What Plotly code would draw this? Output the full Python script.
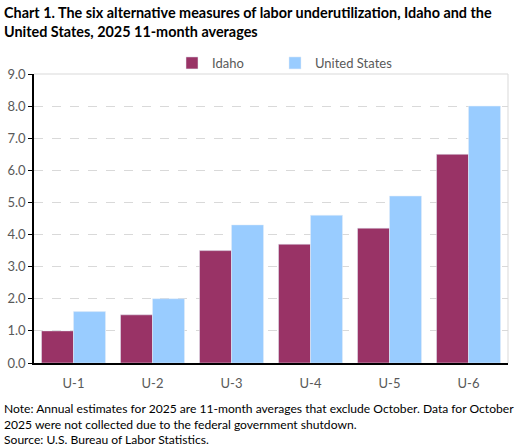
import plotly.graph_objects as go

categories = ["U-1", "U-2", "U-3", "U-4", "U-5", "U-6"]
idaho = [1.0, 1.5, 3.5, 3.7, 4.2, 6.5]
united_states = [1.6, 2.0, 4.3, 4.6, 5.2, 8.0]

FONT = "Lato, 'Open Sans', sans-serif"
TICK_GRAY = "#595959"

# plot area in pixels: left 34, right 508, top 74, bottom 363
PLOT_TOP, PLOT_BOTTOM = 74, 363
PLOT_H = PLOT_BOTTOM - PLOT_TOP


def py(y_px):
    # pixel row -> paper y
    return (PLOT_BOTTOM - y_px) / PLOT_H


def px_(x_px):
    return (x_px - 34) / (508 - 34)


fig = go.Figure()
fig.add_trace(go.Bar(x=categories, y=idaho, name="Idaho", marker_color="#993366",
                     legend="legend"))
fig.add_trace(go.Bar(x=categories, y=united_states, name="United States", marker_color="#99CCFF",
                     legend="legend2"))

legend_style = dict(
    orientation="h",
    xanchor="left",
    y=py(48),
    yanchor="top",
    font=dict(size=13, color=TICK_GRAY),
    itemwidth=30,
    bgcolor="rgba(0,0,0,0)",
)

fig.update_layout(
    width=527,
    height=448,
    margin=dict(l=34, r=19, t=74, b=85, autoexpand=False),
    paper_bgcolor="white",
    plot_bgcolor="white",
    font=dict(family=FONT, size=12, color=TICK_GRAY),
    barmode="group",
    bargap=0.19,
    bargroupgap=0,
    showlegend=True,
    legend=dict(legend_style, x=px_(172)),
    legend2=dict(legend_style, x=px_(275)),
    xaxis=dict(
        showline=True,
        linecolor="black",
        linewidth=1.5,
        ticks="",
        ticklabelstandoff=8,
        automargin=False,
        tickfont=dict(size=13, color=TICK_GRAY),
    ),
    yaxis=dict(
        range=[0, 9],
        dtick=1,
        tickformat=".1f",
        showline=True,
        linecolor="black",
        linewidth=1.5,
        ticks="outside",
        ticklen=4,
        tickcolor="black",
        showgrid=True,
        gridcolor="#D9D9D9",
        griddash="dash",
        zeroline=False,
        automargin=False,
        tickfont=dict(size=13, color=TICK_GRAY),
    ),
)

# right border and solid top line of plot area
fig.add_shape(type="line", xref="paper", yref="paper", x0=1, x1=1, y0=0, y1=1,
              line=dict(color="#D9D9D9", width=1))
fig.add_shape(type="line", xref="paper", yref="paper", x0=0, x1=1, y0=1, y1=1,
              line=dict(color="#D9D9D9", width=1))

fig.add_annotation(
    text="<b>Chart 1. The six alternative measures of labor underutilization, Idaho and the<br>United States, 2025 11-month averages</b>",
    xref="paper", yref="paper", x=px_(2), y=py(2), xanchor="left", yanchor="top",
    align="left", showarrow=False, font=dict(size=14.4, color="black", family=FONT),
)
fig.add_annotation(
    text="Note: Annual estimates for 2025 are 11-month averages that exclude October. Data for October<br>"
         "2025 were not collected due to the federal government shutdown.<br>"
         "Source: U.S. Bureau of Labor Statistics.",
    xref="paper", yref="paper", x=px_(2), y=py(399), xanchor="left", yanchor="top",
    align="left", showarrow=False, font=dict(size=12.1, color="black", family=FONT),
)

fig.write_html(
    "out.html",
    config={"displayModeBar": False},
    post_script="document.body.style.margin = '0';",
)
